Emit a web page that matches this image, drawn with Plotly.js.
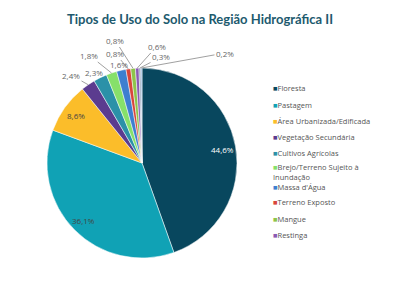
<!DOCTYPE html>
<html><head><meta charset="utf-8">
<script src="https://cdn.plot.ly/plotly-3.0.1.min.js"></script>
<style>
html,body{margin:0;padding:0;background:#fff;}
#chart{width:400px;height:284px;}
</style></head>
<body><div id="chart"></div>
<script>
const categories = ["Floresta","Pastagem","Área Urbanizada/Edificada","Vegetação Secundária","Cultivos Agrícolas","Brejo/Terreno Sujeito à<br>Inundação","Massa d'Água","Terreno Exposto","Mangue","Restinga","Afloramento Rochoso","Outros"];
const values = [44.6,36.1,8.6,2.4,2.3,1.8,1.6,0.8,0.8,0.6,0.3,0.2];
const colors = ["#08475e","#10a2b5","#fbbd2a","#5b3c8f","#2b91a8","#86e06a","#3d7fd0","#d8453b","#8ec44a","#8a5ab3","#7a8fa8","#8fb5e0"];
const legendCount = 10; // the reference legend shows the first ten classes
// label placement (pixels): inside labels use a radius fraction, outside labels a text position
const insideLabel = [true,true,true,false,false,false,false,false,false,false,false,false];
const insideColor = ["#ffffff","#444444","#444444"];
const outsidePos = [null,null,null,[71,75],[94,72],[89,55],[119,64],[115,53],[115,40],[157,46],[161,57],[225,53]];

const W = 400, H = 284;
const dom = {x: [0.1175, 0.5925], y: [0.0915, 0.7606]};
const cx = W*(dom.x[0]+dom.x[1])/2, cy = H*(1-(dom.y[0]+dom.y[1])/2);
const R = Math.min(W*(dom.x[1]-dom.x[0]), H*(dom.y[1]-dom.y[0]))/2;

const trace = {
  type: "pie",
  labels: categories,
  values: values,
  sort: false,
  direction: "clockwise",
  rotation: 0,
  marker: {colors: colors, line: {color: "#ffffff", width: 0.5}},
  textinfo: "none",
  hoverinfo: "label+percent",
  showlegend: false,
  domain: dom
};

const total = values.reduce((a,b)=>a+b,0);
const fmt = v => v.toFixed(1).replace(".", ",") + "%";
const annotations = [];
let cum = 0;
values.forEach((v,i)=>{
  const th = 2*Math.PI*(cum + v/2)/total;
  cum += v;
  if (insideLabel[i]) {
    const r = 0.86*R;
    annotations.push({xref:"paper", yref:"paper", x:(cx + r*Math.sin(th))/W, y:1-(cy - r*Math.cos(th))/H,
      text: fmt(v), showarrow:false, xanchor:"center", yanchor:"middle",
      font:{family:"Open Sans, sans-serif", size:8, color: insideColor[i]}});
  } else {
    const px = cx + R*Math.sin(th), py = cy - R*Math.cos(th);
    const [lx, ly] = outsidePos[i];
    annotations.push({xref:"paper", yref:"paper", x:px/W, y:1-py/H,
      text: fmt(v), showarrow:true, arrowhead:0, arrowwidth:0.7, arrowcolor:"#777777",
      standoff:0, startstandoff:0, ax: lx-px, ay: ly-py,
      font:{family:"Open Sans, sans-serif", size:8, color:"#666666"}});
  }
});

// legend drawn as text entries
const legX = 272, legY0 = 87, legStep = 16.3;
for (let i=0;i<legendCount;i++){
  const multi = categories[i].includes("<br>");
  const shift = multi ? 7.5 : (i === 6 ? 3.8 : 4.8);
  annotations.push({xref:"paper", yref:"paper", x: legX/W, y: 1-(legY0 + legStep*i - shift)/H,
    xanchor:"left", yanchor:"top", align:"left", showarrow:false, borderpad:0,
    text: `<span style="color:${colors[i]}">■</span>${categories[i]}`,
    font:{family:"Open Sans, sans-serif", size:7.5, color:"#555555"}});
}

const layout = {
  width: W, height: H,
  margin: {l: 0, r: 0, t: 0, b: 0},
  paper_bgcolor: "#ffffff",
  showlegend: false,
  title: {text: "Tipos de Uso do Solo na Região Hidrográfica II", x: 0.5, xanchor: "center", y: 0.931, yanchor: "middle",
          font: {family: "Lato, sans-serif", size: 13, color: "#1d5a6e", weight: "bold"}},
  annotations: annotations
};

Plotly.newPlot("chart", [trace], layout, {displayModeBar: false, staticPlot: true});
</script></body></html>
